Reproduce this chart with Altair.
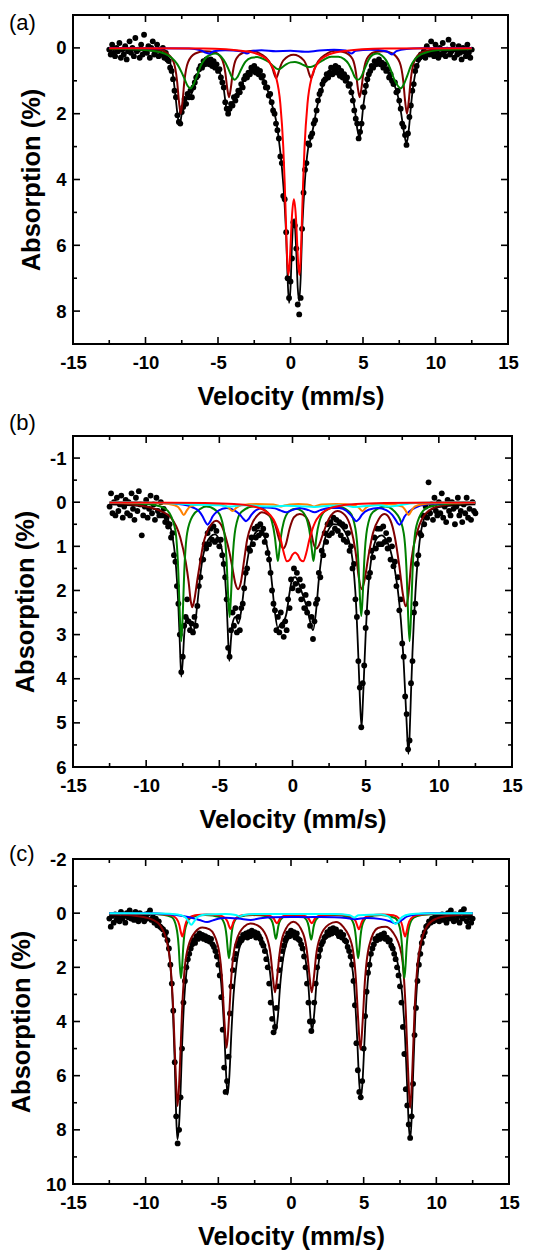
import altair as alt
import pandas as pd

# Velocity channels of the spectrometer (mm/s), 0.1 mm/s apart
VELOCITY = [round(-12.5 + 0.1 * i, 1) for i in range(251)]

# ---------------- panel (a) ----------------
ABS_A = [
    0.05, 0.2, -0.1, 0.15, 0.25, 0.0,
    0.1, -0.15, 0.3, 0.05, 0.2, -0.05, 0.35, 0.1, -0.2, 0.15,
    0.0, 0.25, -0.3, 0.1, 0.05, 0.3, -0.1, 0.2, -0.4, 0.1,
    0.15, -0.05, 0.3, 0.0, -0.2, 0.2, 0.1, -0.1, 0.25, 0.05,
    0.2, 0.0, 0.3, 0.15, 0.35, 0.4, 0.6, 0.7, 0.95, 1.3,
    1.5, 2.05, 2.25, 2.3, 1.95, 1.8, 1.55, 1.7, 1.4, 1.5,
    1.3, 1.5, 1.2, 1.05, 0.9, 0.85, 0.65, 0.55, 0.6, 0.4,
    0.5, 0.35, 0.45, 0.5, 0.35, 0.55, 0.4, 0.6, 0.5, 0.7,
    0.65, 0.9, 1.05, 1.2, 1.65, 1.85, 2.0, 1.85, 1.7, 1.75,
    1.5, 1.6, 1.45, 1.3, 1.35, 1.1, 1.2, 0.95, 0.85, 0.9,
    0.75, 0.8, 0.6, 0.7, 0.55, 0.75, 0.65, 0.8, 0.7, 0.9,
    0.85, 1.05, 1.2, 1.2, 1.45, 1.4, 1.65, 1.9, 2.0, 2.3,
    2.5, 2.75, 3.3, 3.5, 4.5, 4.6, 5.6, 7.0, 7.6, 7.1,
    6.4, 5.3, 5.4, 6.1, 7.8, 8.1, 7.6, 5.5, 4.4, 3.7,
    3.5, 2.9, 2.95, 2.7, 2.6, 2.3, 2.2, 1.9, 1.6, 1.4,
    1.3, 1.1, 1.0, 0.95, 0.8, 0.9, 0.75, 0.6, 0.8, 0.65,
    0.55, 0.75, 0.6, 0.85, 0.7, 0.9, 0.8, 1.0, 0.9, 1.15,
    1.1, 1.35, 1.6, 1.9, 2.15, 2.3, 2.75, 2.55, 2.3, 1.8,
    1.35, 1.15, 0.95, 0.8, 0.7, 0.55, 0.6, 0.4, 0.5, 0.45,
    0.35, 0.5, 0.45, 0.6, 0.5, 0.7, 0.65, 0.9, 0.8, 1.0,
    1.1, 1.05, 1.35, 1.3, 1.6, 1.85, 2.3, 2.4, 2.65, 2.95,
    2.6, 2.1, 1.75, 1.3, 1.1, 0.7, 0.55, 0.35, 0.3, 0.2,
    0.25, 0.1, 0.3, -0.05, 0.15, 0.2, -0.2, 0.1, 0.25, -0.1,
    0.15, 0.3, 0.0, 0.2, -0.15, 0.1, 0.25, 0.05, -0.25, 0.2,
    0.1, -0.1, 0.3, 0.05, 0.2, -0.05, 0.15, 0.35, 0.0, 0.1,
    0.25, -0.1, 0.15, 0.3, 0.05,
]

FIT_A = [(-12.5, 0.05), (-11, 0.06), (-10, 0.07), (-9.5, 0.09), (-9, 0.12), (-8.7, 0.18),
         (-8.5, 0.25), (-8.3, 0.45), (-8.2, 0.6), (-8.1, 0.85), (-8.0, 1.2), (-7.9, 1.6),
         (-7.8, 2.0), (-7.65, 2.35), (-7.5, 2.0), (-7.4, 1.75), (-7.3, 1.6), (-7.1, 1.5),
         (-6.9, 1.45), (-6.7, 1.25), (-6.5, 0.95), (-6.3, 0.7), (-6.1, 0.55), (-5.8, 0.45),
         (-5.5, 0.45), (-5.2, 0.53), (-5.0, 0.62), (-4.8, 0.85), (-4.6, 1.25), (-4.5, 1.6),
         (-4.4, 1.9), (-4.3, 2.05), (-4.2, 1.95), (-4.1, 1.75), (-3.9, 1.6), (-3.7, 1.5),
         (-3.5, 1.25), (-3.3, 1.05), (-3.0, 0.85), (-2.7, 0.72), (-2.4, 0.7), (-2.1, 0.8),
         (-1.8, 1.0), (-1.5, 1.4), (-1.2, 1.85), (-1.0, 2.2), (-0.8, 2.8), (-0.6, 3.6),
         (-0.4, 4.8), (-0.3, 5.7), (-0.2, 7.0), (-0.1, 7.75), (0.0, 7.3), (0.1, 6.0),
         (0.25, 5.2), (0.4, 6.2), (0.5, 7.3), (0.6, 7.7), (0.7, 7.0), (0.8, 5.6), (0.9, 4.7),
         (1.0, 4.0), (1.2, 3.1), (1.4, 2.75), (1.6, 2.35), (1.8, 1.85), (2.0, 1.5), (2.3, 1.05),
         (2.6, 0.85), (3.0, 0.7), (3.4, 0.74), (3.8, 0.9), (4.1, 1.15), (4.3, 1.5), (4.5, 2.1),
         (4.6, 2.45), (4.7, 2.65), (4.75, 2.75), (4.8, 2.65), (4.9, 2.3), (5.0, 1.85), (5.1, 1.5),
         (5.3, 1.0), (5.6, 0.65), (6.0, 0.5), (6.4, 0.56), (6.8, 0.8), (7.1, 1.05), (7.4, 1.45),
         (7.6, 1.9), (7.8, 2.5), (7.9, 2.75), (8.0, 2.9), (8.1, 2.7), (8.2, 2.3), (8.3, 1.8),
         (8.5, 1.05), (8.7, 0.6), (9.0, 0.33), (9.5, 0.16), (10, 0.1), (11, 0.07), (12.5, 0.05)]

DARKRED_A = [(-12.5, 0.01), (-10, 0.02), (-9, 0.06), (-8.57, 0.14), (-8.07, 0.42), (-7.82, 1.02),
             (-7.695, 1.62), (-7.57, 2.0), (-7.445, 1.62), (-7.32, 1.02), (-7.07, 0.44), (-6.57, 0.17),
             (-5.9, 0.1), (-5.24, 0.13), (-4.74, 0.33), (-4.49, 0.77), (-4.365, 1.22), (-4.24, 1.5),
             (-4.115, 1.22), (-3.99, 0.77), (-3.74, 0.33), (-3.24, 0.14), (-2.6, 0.09), (-1.99, 0.2),
             (-1.49, 0.4), (-1.24, 0.62), (-1.115, 0.8), (-0.99, 0.92), (-0.865, 0.8), (-0.74, 0.62),
             (-0.49, 0.38), (0.21, 0.21), (0.92, 0.38), (1.17, 0.62), (1.295, 0.8), (1.42, 0.92),
             (1.545, 0.8), (1.67, 0.62), (1.92, 0.4), (2.42, 0.2), (3.1, 0.09), (3.77, 0.14),
             (4.27, 0.33), (4.52, 0.77), (4.645, 1.22), (4.77, 1.5), (4.895, 1.22), (5.02, 0.77),
             (5.27, 0.33), (5.77, 0.13), (6.4, 0.1), (7.03, 0.17), (7.53, 0.44), (7.78, 1.02),
             (7.905, 1.62), (8.03, 2.0), (8.155, 1.62), (8.28, 1.02), (8.53, 0.42), (9.03, 0.14),
             (10, 0.04), (11, 0.02), (12.5, 0.01)]

GREEN_A = [(-12.5, 0.02), (-10.5, 0.05), (-9.5, 0.09), (-8.7, 0.17), (-8.2, 0.3), (-7.8, 0.5),
           (-7.5, 0.75), (-7.3, 0.95), (-7.1, 1.15), (-6.9, 1.23), (-6.7, 1.12), (-6.45, 0.85),
           (-6.2, 0.55), (-5.9, 0.33), (-5.5, 0.2), (-5.2, 0.17), (-4.9, 0.22), (-4.6, 0.37),
           (-4.3, 0.62), (-4.05, 0.88), (-3.85, 0.97), (-3.65, 0.88), (-3.4, 0.65), (-3.1, 0.42),
           (-2.7, 0.3), (-2.3, 0.28), (-1.9, 0.33), (-1.5, 0.43), (-1.2, 0.55), (-1.0, 0.62),
           (-0.8, 0.65), (-0.6, 0.6), (-0.3, 0.5), (0.0, 0.44), (0.3, 0.43), (0.6, 0.46),
           (0.9, 0.52), (1.15, 0.57), (1.38, 0.58), (1.6, 0.55), (1.9, 0.47), (2.3, 0.36),
           (2.8, 0.27), (3.3, 0.27), (3.7, 0.34), (4.0, 0.48), (4.25, 0.7), (4.45, 0.9),
           (4.65, 0.97), (4.85, 0.9), (5.1, 0.65), (5.4, 0.35), (5.7, 0.2), (6.0, 0.17),
           (6.3, 0.23), (6.6, 0.38), (6.9, 0.65), (7.15, 0.95), (7.4, 1.15), (7.6, 1.23),
           (7.8, 1.12), (8.05, 0.85), (8.3, 0.55), (8.6, 0.33), (9.0, 0.2), (9.5, 0.12),
           (10.5, 0.06), (12.5, 0.03)]

BLUE_A = [(-12.5, 0.0), (-7, 0.02), (-6.2, 0.07), (-5.8, 0.15), (-5.6, 0.17), (-5.3, 0.1),
          (-4.5, 0.07), (-3.4, 0.1), (-3.0, 0.17), (-2.7, 0.1), (-2, 0.07), (-1, 0.1), (0, 0.09),
          (1, 0.12), (2, 0.08), (3, 0.06), (3.8, 0.08), (4.2, 0.17), (4.5, 0.09), (5.5, 0.06),
          (6.6, 0.1), (7.0, 0.2), (7.3, 0.1), (8, 0.03), (9, 0.01), (12.5, 0.0)]

RED_A = [(-12.5, 0.01), (-6, 0.02), (-3, 0.11), (-2, 0.24), (-1.5, 0.41), (-1.0, 0.88), (-0.7, 1.7),
         (-0.5, 3.0), (-0.4, 4.1), (-0.3, 5.5), (-0.22, 6.5), (-0.15, 6.9), (-0.05, 6.5), (0.0, 6.04),
         (0.1, 5.12), (0.235, 4.6), (0.37, 5.12), (0.47, 6.04), (0.52, 6.5), (0.62, 6.9), (0.69, 6.5),
         (0.77, 5.5), (0.87, 4.1), (0.97, 3.0), (1.17, 1.7), (1.47, 0.88), (1.97, 0.41), (2.47, 0.24),
         (3.47, 0.11), (6.5, 0.02), (12.5, 0.01)]

# ---------------- panel (b) ----------------
ABS_B = [
    0.1, -0.2, 0.25, 0.0, 0.3, -0.1,
    0.2, 0.05, -0.15, 0.35, 0.1, -0.05, 0.25, 0.0, 0.3, -0.2,
    0.15, 0.4, -0.1, 0.2, -0.25, 0.05, 0.75, 0.3, 0.1, -0.05,
    0.35, 0.15, -0.15, 0.25, 0.05, 0.4, -0.1, 0.2, 0.3, 0.0,
    0.3, 0.15, 0.45, 0.35, 0.55, 0.5, 0.8, 0.7, 1.2, 1.35,
    1.9, 2.3, 3.0, 3.85, 3.5, 2.8, 2.6, 2.2, 2.7, 2.9,
    2.75, 2.95, 2.6, 2.8, 2.35, 1.9, 1.7, 1.3, 1.3, 0.95,
    1.05, 0.7, 0.95, 0.6, 0.85, 0.55, 0.9, 0.65, 0.85, 1.0,
    0.85, 1.2, 1.4, 1.7, 2.2, 3.3, 3.5, 2.9, 2.5, 2.8,
    2.4, 2.95, 2.6, 2.9, 2.4, 2.3, 1.95, 1.6, 1.5, 1.05,
    1.1, 0.8, 0.95, 0.6, 0.8, 0.55, 0.75, 0.5, 0.7, 0.6,
    0.9, 0.75, 1.15, 1.3, 1.6, 2.0, 2.3, 2.45, 2.9, 2.6,
    2.95, 2.5, 2.8, 3.05, 2.7, 2.9, 2.2, 2.4, 1.75, 1.95,
    1.5, 1.85, 1.6, 2.0, 1.75, 2.2, 1.9, 2.4, 2.1, 2.5,
    2.3, 2.8, 2.6, 3.1, 2.7, 2.3, 2.2, 1.6, 1.7, 1.1,
    1.2, 0.7, 0.9, 0.5, 0.75, 0.45, 0.7, 0.35, 0.6, 0.4,
    0.65, 0.45, 0.75, 0.5, 0.85, 0.55, 0.9, 0.7, 1.1, 1.0,
    1.5, 1.4, 2.2, 2.6, 3.6, 4.2, 5.1, 4.1, 3.7, 2.85,
    2.5, 1.7, 1.6, 1.1, 1.25, 0.8, 1.05, 0.6, 0.95, 0.6,
    0.95, 0.55, 0.9, 0.7, 1.05, 0.85, 1.3, 1.0, 1.45, 1.35,
    1.9, 1.7, 2.45, 2.2, 3.2, 3.5, 4.4, 4.8, 5.6, 5.4,
    4.1, 3.6, 2.5, 2.3, 1.4, 1.2, 0.7, 0.75, 0.3, 0.5,
    0.1, 0.35, -0.45, 0.25, 0.05, 0.4, -0.1, 0.2, 0.3, 0.0,
    0.25, -0.2, 0.35, 0.1, 0.45, -0.05, 0.2, 0.3, 0.0, 0.15,
    0.5, 0.1, -0.1, 0.3, 0.2, 0.45, 0.05, 0.25, -0.1, 0.35,
    0.15, 0.4, 0.0, 0.2, 0.25,
]

FIT_B = [(-12.5, 0.05), (-11, 0.07), (-10, 0.1), (-9.5, 0.15), (-9, 0.2), (-8.7, 0.27), (-8.5, 0.4),
         (-8.3, 0.62), (-8.1, 1.0), (-8.0, 1.3), (-7.9, 1.75), (-7.8, 2.35), (-7.7, 3.2), (-7.6, 3.95),
         (-7.5, 3.6), (-7.4, 3.0), (-7.3, 2.7), (-7.2, 2.6), (-7.0, 2.75), (-6.85, 2.95), (-6.7, 2.85),
         (-6.5, 2.3), (-6.3, 1.65), (-6.1, 1.2), (-5.9, 0.95), (-5.6, 0.78), (-5.3, 0.73), (-5.0, 0.87),
         (-4.8, 1.12), (-4.6, 1.75), (-4.5, 2.3), (-4.4, 3.1), (-4.32, 3.6), (-4.2, 3.1), (-4.1, 2.75),
         (-3.9, 2.6), (-3.7, 2.75), (-3.5, 2.45), (-3.3, 1.9), (-3.1, 1.35), (-2.9, 1.0), (-2.6, 0.73),
         (-2.3, 0.64), (-2.0, 0.73), (-1.8, 0.9), (-1.6, 1.25), (-1.4, 1.85), (-1.2, 2.5), (-1.0, 2.85),
         (-0.8, 2.75), (-0.6, 2.7), (-0.4, 2.5), (-0.2, 2.05), (0.0, 1.72), (0.2, 1.7), (0.4, 1.82),
         (0.6, 2.0), (0.8, 2.2), (1.0, 2.4), (1.2, 2.7), (1.4, 2.9), (1.6, 2.5), (1.8, 1.75), (2.0, 1.2),
         (2.2, 0.85), (2.5, 0.6), (2.8, 0.5), (3.1, 0.51), (3.4, 0.58), (3.7, 0.74), (3.9, 0.93),
         (4.1, 1.3), (4.3, 2.05), (4.5, 3.5), (4.6, 4.4), (4.72, 5.1), (4.8, 4.6), (4.9, 3.8),
         (5.0, 3.0), (5.1, 2.35), (5.3, 1.5), (5.5, 1.08), (5.8, 0.8), (6.1, 0.75), (6.4, 0.85),
         (6.7, 1.1), (7.0, 1.55), (7.2, 2.0), (7.4, 2.65), (7.6, 3.65), (7.8, 5.0), (7.92, 5.7),
         (8.0, 5.3), (8.1, 4.3), (8.2, 3.4), (8.4, 2.05), (8.6, 1.15), (8.8, 0.63), (9.0, 0.37),
         (9.3, 0.21), (9.7, 0.14), (10.5, 0.09), (12.5, 0.05)]

DARKRED_B = [(-12.5, 0.02), (-11, 0.05), (-10, 0.1), (-9, 0.2), (-8.33, 0.34), (-7.67, 0.8),
             (-7.3, 1.35), (-7.1, 1.8), (-6.95, 2.25), (-6.85, 2.38), (-6.7, 2.2), (-6.5, 1.75),
             (-6.33, 1.4), (-6.1, 0.95), (-5.9, 0.72), (-5.5, 0.48), (-5.22, 0.42), (-4.9, 0.5),
             (-4.56, 0.8), (-4.3, 1.15), (-4.1, 1.5), (-3.9, 1.85), (-3.72, 1.97), (-3.55, 1.85),
             (-3.3, 1.3), (-3.1, 0.85), (-2.78, 0.5), (-2.4, 0.3), (-2.1, 0.23), (-1.7, 0.28),
             (-1.44, 0.36), (-1.2, 0.5), (-0.95, 0.8), (-0.75, 1.0), (-0.62, 1.05), (-0.45, 0.95),
             (-0.2, 0.6), (0.1, 0.34), (0.5, 0.27), (0.9, 0.33), (1.2, 0.55), (1.45, 0.95),
             (1.65, 1.05), (1.8, 0.98), (2.1, 0.7), (2.5, 0.37), (3.07, 0.2), (3.6, 0.3), (4.0, 0.6),
             (4.3, 1.1), (4.55, 1.75), (4.73, 1.97), (4.9, 1.8), (5.2, 1.2), (5.5, 0.7), (5.9, 0.38),
             (6.3, 0.27), (6.7, 0.42), (7.0, 0.8), (7.3, 1.45), (7.55, 2.1), (7.73, 2.36), (7.9, 2.15),
             (8.13, 1.3), (8.5, 0.7), (8.9, 0.35), (9.7, 0.12), (10.5, 0.06), (12.5, 0.02)]

GREEN_B = [(-12.5, 0.01), (-10.5, 0.03), (-9.5, 0.06), (-8.8, 0.13), (-8.4, 0.25), (-8.0, 0.65),
           (-7.8, 1.6), (-7.7, 2.55), (-7.6, 3.15), (-7.5, 2.55), (-7.4, 1.6), (-7.2, 0.7),
           (-6.8, 0.3), (-6.3, 0.15), (-5.9, 0.1), (-5.1, 0.22), (-4.7, 0.6), (-4.5, 1.35),
           (-4.4, 2.1), (-4.3, 2.6), (-4.2, 2.1), (-4.1, 1.35), (-3.9, 0.6), (-3.5, 0.22),
           (-2.65, 0.1), (-1.8, 0.2), (-1.4, 0.45), (-1.2, 0.8), (-1.1, 1.1), (-1.0, 1.33),
           (-0.9, 1.1), (-0.8, 0.8), (-0.6, 0.45), (-0.2, 0.2), (0.215, 0.15), (0.63, 0.2),
           (1.03, 0.45), (1.23, 0.8), (1.33, 1.1), (1.43, 1.33), (1.53, 1.1), (1.63, 0.8),
           (1.83, 0.45), (2.23, 0.2), (3.05, 0.1), (3.9, 0.22), (4.3, 0.6), (4.5, 1.35),
           (4.6, 2.1), (4.7, 2.58), (4.8, 2.1), (4.9, 1.35), (5.1, 0.6), (5.5, 0.22), (6.35, 0.1),
           (7.2, 0.3), (7.6, 0.7), (7.8, 1.6), (7.9, 2.55), (8.0, 3.15), (8.1, 2.55), (8.2, 1.6),
           (8.4, 0.65), (8.8, 0.25), (9.2, 0.13), (9.9, 0.06), (10.9, 0.03), (12.5, 0.01)]

BLUE_B = [(-12.5, 0.005), (-9, 0.02), (-7.5, 0.05), (-6.8, 0.12), (-6.4, 0.2), (-6.15, 0.32),
          (-5.95, 0.45), (-5.8, 0.51), (-5.65, 0.45), (-5.45, 0.32), (-5.1, 0.2), (-4.5, 0.13),
          (-4.0, 0.18), (-3.6, 0.28), (-3.35, 0.38), (-3.18, 0.43), (-3.0, 0.38), (-2.8, 0.28),
          (-2.3, 0.15), (-1.8, 0.12), (-1.2, 0.14), (-0.8, 0.19), (-0.45, 0.23), (-0.1, 0.19),
          (0.5, 0.13), (1.1, 0.18), (1.52, 0.23), (1.9, 0.18), (2.5, 0.13), (3.2, 0.13), (3.7, 0.2),
          (4.0, 0.3), (4.2, 0.38), (4.36, 0.43), (4.55, 0.38), (4.75, 0.28), (5.2, 0.17),
          (5.85, 0.13), (6.4, 0.18), (6.8, 0.28), (7.05, 0.4), (7.2, 0.48), (7.32, 0.51),
          (7.47, 0.45), (7.67, 0.32), (8.02, 0.2), (8.4, 0.12), (9.1, 0.05), (10.5, 0.02),
          (12.5, 0.005)]

ORANGE_B = [(-12.5, 0.005), (-9.5, 0.02), (-8.3, 0.05), (-7.85, 0.1), (-7.63, 0.19), (-7.43, 0.29),
            (-7.23, 0.19), (-7.0, 0.1), (-6.4, 0.05), (-5.5, 0.04), (-4.7, 0.07), (-4.35, 0.13),
            (-4.1, 0.2), (-3.85, 0.13), (-3.5, 0.07), (-2.5, 0.04), (-1.3, 0.05), (-0.95, 0.08),
            (-0.8, 0.1), (-0.6, 0.08), (-0.2, 0.05), (0.4, 0.04), (1.0, 0.05), (1.3, 0.08),
            (1.47, 0.1), (1.65, 0.08), (2.0, 0.05), (3.0, 0.04), (4.2, 0.07), (4.55, 0.13),
            (4.78, 0.2), (5.0, 0.13), (5.4, 0.07), (6.5, 0.04), (7.5, 0.1), (7.73, 0.19),
            (7.93, 0.29), (8.13, 0.19), (8.35, 0.1), (8.8, 0.05), (10, 0.02), (12.5, 0.005)]

CYAN_B = [(-12.5, 0.0), (-9, 0.01), (-8, 0.03), (-7, 0.05), (-6, 0.06), (-5, 0.07), (-4.3, 0.1),
          (-3.5, 0.07), (-2.5, 0.08), (-1.5, 0.1), (-0.5, 0.08), (0.5, 0.09), (1.5, 0.11), (2.5, 0.08),
          (3.5, 0.07), (4.3, 0.11), (5.2, 0.08), (6.0, 0.07), (6.7, 0.1), (7.3, 0.07), (8, 0.03),
          (9, 0.01), (12.5, 0.0)]

RED_B = [(-12.5, 0.005), (-6, 0.02), (-4, 0.043), (-3, 0.075), (-2, 0.17), (-1.5, 0.3), (-1.2, 0.45),
         (-1.0, 0.62), (-0.8, 0.85), (-0.6, 1.14), (-0.38, 1.34), (-0.2, 1.31), (0.0, 1.19),
         (0.175, 1.14), (0.35, 1.19), (0.55, 1.31), (0.73, 1.34), (0.95, 1.14), (1.15, 0.85),
         (1.35, 0.62), (1.55, 0.45), (1.85, 0.3), (2.35, 0.17), (3.35, 0.075), (4.35, 0.043),
         (6.3, 0.02), (12.5, 0.005)]

# ---------------- panel (c) ----------------
ABS_C = [
    0.2, 0.5, 0.1, 0.35, 0.05, 0.25,
    0.15, 0.3, -0.05, 0.2, 0.1, 0.35, 0.0, 0.15, -0.1, 0.2,
    0.05, 0.25, -0.05, 0.15, 0.3, 0.0, 0.2, 0.1, 0.3, 0.05,
    0.2, 0.0, -0.1, 0.25, 0.15, 0.35, 0.2, 0.45, 0.3, 0.5,
    0.55, 0.6, 0.8, 0.7, 1.0, 1.3, 1.9, 2.6, 3.6, 5.5,
    7.5, 8.5, 8.0, 6.8, 5.0, 3.3, 2.5, 2.0, 1.7, 1.5,
    1.3, 1.15, 1.0, 1.1, 0.85, 0.95, 0.75, 0.9, 0.8, 0.95,
    0.85, 1.0, 0.9, 1.05, 0.95, 1.15, 1.25, 1.4, 1.6, 1.9,
    2.3, 3.1, 4.3, 5.7, 6.6, 6.2, 5.3, 3.7, 2.7, 2.1,
    1.7, 1.5, 1.2, 1.1, 0.95, 1.0, 0.8, 0.85, 0.75, 0.9,
    0.7, 0.85, 0.65, 0.8, 0.7, 0.9, 0.75, 0.85, 0.95, 1.1,
    1.2, 1.4, 1.7, 2.0, 2.6, 3.3, 3.9, 4.4, 4.2, 3.5,
    2.7, 2.1, 1.7, 1.4, 1.2, 1.0, 0.9, 0.75, 0.85, 0.65,
    0.8, 0.7, 0.9, 0.75, 0.95, 1.0, 1.15, 1.3, 1.6, 2.0,
    2.6, 3.3, 4.0, 4.35, 4.0, 3.3, 2.6, 2.0, 1.6, 1.35,
    1.15, 1.05, 0.9, 0.85, 0.7, 0.8, 0.6, 0.75, 0.55, 0.7,
    0.6, 0.75, 0.85, 0.7, 0.9, 0.8, 1.0, 1.05, 1.25, 1.4,
    1.6, 1.9, 2.5, 3.4, 4.8, 5.8, 6.6, 6.8, 6.2, 5.0,
    3.8, 2.9, 2.2, 1.9, 1.5, 1.3, 1.15, 0.95, 1.0, 0.85,
    0.95, 0.8, 0.9, 0.75, 0.95, 0.9, 1.05, 1.0, 1.2, 1.3,
    1.5, 1.7, 2.0, 2.3, 2.7, 3.3, 4.2, 5.2, 6.5, 7.1,
    7.8, 8.3, 7.5, 6.3, 4.5, 3.5, 2.5, 1.9, 1.5, 1.1,
    0.85, 0.7, 0.5, 0.45, 0.3, 0.35, 0.2, 0.3, 0.15, 0.25,
    0.1, 0.3, 0.2, 0.05, 0.25, 0.15, 0.35, 0.0, 0.2, -0.1,
    0.15, 0.3, 0.05, 0.25, 0.1, 0.35, -0.05, 0.2, -0.15, 0.1,
    0.3, 0.5, 0.15, 0.35, 0.2,
]

FIT_C = [(-12.5, 0.1), (-11, 0.13), (-10, 0.18), (-9.5, 0.25), (-9, 0.4), (-8.7, 0.65), (-8.5, 1.0),
         (-8.3, 1.9), (-8.15, 3.2), (-8.0, 5.5), (-7.9, 7.5), (-7.82, 8.35), (-7.7, 7.8), (-7.6, 6.6),
         (-7.5, 5.0), (-7.35, 3.2), (-7.2, 2.2), (-7.0, 1.55), (-6.7, 1.1), (-6.4, 0.95), (-6.0, 0.95),
         (-5.6, 1.0), (-5.3, 1.2), (-5.0, 1.7), (-4.8, 2.6), (-4.6, 4.3), (-4.45, 6.1), (-4.37, 6.7),
         (-4.25, 6.1), (-4.1, 4.4), (-3.95, 3.0), (-3.75, 1.9), (-3.5, 1.2), (-3.1, 0.9), (-2.7, 0.75),
         (-2.3, 0.8), (-1.9, 1.1), (-1.6, 1.6), (-1.4, 2.4), (-1.2, 3.6), (-1.05, 4.35), (-0.9, 3.8),
         (-0.75, 2.7), (-0.55, 1.7), (-0.3, 1.1), (0.0, 0.85), (0.2, 0.8), (0.5, 0.9), (0.8, 1.2),
         (1.0, 1.7), (1.2, 2.7), (1.35, 3.9), (1.45, 4.35), (1.6, 3.7), (1.75, 2.6), (1.95, 1.65),
         (2.2, 1.1), (2.6, 0.8), (3.0, 0.7), (3.4, 0.8), (3.8, 1.1), (4.1, 1.6), (4.35, 2.7),
         (4.55, 4.6), (4.7, 6.3), (4.8, 6.8), (4.9, 6.4), (5.05, 4.8), (5.2, 3.1), (5.4, 1.9),
         (5.65, 1.2), (6.0, 0.9), (6.4, 0.85), (6.8, 1.0), (7.1, 1.35), (7.4, 2.0), (7.65, 3.0),
         (7.85, 4.6), (8.0, 6.5), (8.1, 7.8), (8.2, 8.35), (8.3, 7.6), (8.4, 6.0), (8.55, 3.8),
         (8.7, 2.4), (8.9, 1.4), (9.2, 0.75), (9.6, 0.4), (10.2, 0.22), (11, 0.14), (12.5, 0.1)]

DARKRED_C = [(-12.5, 0.04), (-11, 0.08), (-10, 0.16), (-9.5, 0.25), (-9.0, 0.45), (-8.4, 1.45),
             (-8.1, 3.6), (-7.95, 5.7), (-7.8, 7.12), (-7.65, 5.75), (-7.5, 3.65), (-7.2, 1.55),
             (-6.6, 0.7), (-6.1, 0.53), (-5.6, 0.6), (-5.03, 1.2), (-4.73, 2.55), (-4.58, 4.0),
             (-4.43, 4.97), (-4.28, 4.0), (-4.13, 2.55), (-3.83, 1.15), (-3.23, 0.5), (-2.8, 0.38),
             (-2.3, 0.45), (-1.7, 0.85), (-1.4, 1.55), (-1.25, 2.35), (-1.1, 2.92), (-0.95, 2.35),
             (-0.8, 1.55), (-0.5, 0.75), (0.165, 0.32), (0.83, 0.75), (1.13, 1.55), (1.28, 2.35),
             (1.43, 2.92), (1.58, 2.35), (1.73, 1.55), (2.03, 0.85), (2.6, 0.42), (3.1, 0.33),
             (3.58, 0.5), (4.18, 1.15), (4.48, 2.55), (4.63, 4.0), (4.78, 5.04), (4.93, 4.0),
             (5.08, 2.55), (5.38, 1.2), (5.98, 0.55), (6.5, 0.5), (7.0, 0.7), (7.6, 1.5), (7.9, 3.65),
             (8.05, 5.75), (8.2, 7.19), (8.35, 5.8), (8.5, 3.65), (8.8, 1.5), (9.4, 0.45), (10, 0.2),
             (11, 0.09), (12.5, 0.04)]

GREEN_C = [(-12.5, 0.01), (-10, 0.02), (-8.8, 0.06), (-8.2, 0.15), (-7.89, 0.52), (-7.73, 1.22),
           (-7.65, 1.95), (-7.57, 2.4), (-7.49, 1.95), (-7.41, 1.22), (-7.25, 0.52), (-6.93, 0.18),
           (-6.3, 0.08), (-5.9, 0.07), (-4.91, 0.14), (-4.59, 0.38), (-4.43, 0.87), (-4.35, 1.35),
           (-4.27, 1.66), (-4.19, 1.35), (-4.11, 0.87), (-3.95, 0.38), (-3.63, 0.14), (-2.65, 0.07),
           (-1.68, 0.11), (-1.36, 0.24), (-1.2, 0.5), (-1.12, 0.78), (-1.04, 0.95), (-0.96, 0.78),
           (-0.88, 0.5), (-0.72, 0.24), (-0.4, 0.11), (0.175, 0.08), (0.75, 0.11), (1.07, 0.25),
           (1.23, 0.52), (1.31, 0.8), (1.39, 0.98), (1.47, 0.8), (1.55, 0.52), (1.71, 0.25),
           (2.03, 0.11), (3.0, 0.07), (3.98, 0.14), (4.3, 0.38), (4.46, 0.87), (4.54, 1.35),
           (4.62, 1.66), (4.7, 1.35), (4.78, 0.87), (4.94, 0.38), (5.26, 0.14), (6.2, 0.07),
           (7.16, 0.18), (7.48, 0.52), (7.64, 1.22), (7.72, 1.95), (7.8, 2.4), (7.88, 1.95),
           (7.96, 1.22), (8.12, 0.52), (8.44, 0.17), (9.0, 0.07), (10, 0.03), (12.5, 0.01)]

RED_C = [(-12.5, 0.005), (-9.5, 0.02), (-8.3, 0.07), (-7.88, 0.2), (-7.68, 0.45), (-7.58, 0.7),
         (-7.48, 0.86), (-7.38, 0.7), (-7.28, 0.45), (-7.08, 0.2), (-6.6, 0.08), (-5.8, 0.05),
         (-4.96, 0.08), (-4.56, 0.17), (-4.36, 0.32), (-4.26, 0.48), (-4.16, 0.58), (-4.06, 0.48),
         (-3.96, 0.32), (-3.76, 0.17), (-3.36, 0.08), (-2.6, 0.05), (-1.77, 0.06), (-1.37, 0.12),
         (-1.17, 0.21), (-1.07, 0.31), (-0.97, 0.37), (-0.87, 0.31), (-0.77, 0.21), (-0.57, 0.12),
         (-0.17, 0.07), (0.23, 0.06), (0.63, 0.07), (1.03, 0.12), (1.23, 0.21), (1.33, 0.31),
         (1.43, 0.37), (1.53, 0.31), (1.63, 0.21), (1.83, 0.12), (2.23, 0.07), (3.0, 0.05),
         (3.87, 0.08), (4.27, 0.17), (4.47, 0.32), (4.57, 0.48), (4.67, 0.59), (4.77, 0.48),
         (4.87, 0.32), (5.07, 0.17), (5.47, 0.08), (6.3, 0.05), (7.05, 0.08), (7.45, 0.2),
         (7.65, 0.45), (7.75, 0.7), (7.85, 0.86), (7.95, 0.7), (8.05, 0.45), (8.25, 0.2),
         (8.7, 0.07), (9.8, 0.02), (12.5, 0.005)]

BLUE_C = [(-12.5, 0.0), (-9.2, 0.01), (-8, 0.06), (-7, 0.15), (-6.3, 0.25), (-5.77, 0.33),
          (-5.3, 0.25), (-4.5, 0.17), (-3.6, 0.2), (-2.77, 0.25), (-2.1, 0.19), (-1.2, 0.15),
          (0, 0.14), (1.0, 0.15), (2.0, 0.14), (3.0, 0.15), (3.8, 0.18), (4.39, 0.22), (5.2, 0.18),
          (6.2, 0.22), (6.8, 0.3), (7.16, 0.37), (7.5, 0.3), (8.0, 0.12), (8.8, 0.03), (9.6, 0.0),
          (12.5, 0.0)]

CYAN_C = [(-12.5, 0.0), (-9, 0.01), (-7.8, 0.05), (-7.3, 0.14), (-7.06, 0.3), (-6.86, 0.43),
          (-6.66, 0.3), (-6.42, 0.14), (-5.9, 0.05), (-4.5, 0.03), (-3.8, 0.07), (-3.53, 0.12),
          (-3.26, 0.07), (-2.5, 0.03), (3.0, 0.03), (4.05, 0.08), (4.35, 0.16), (4.65, 0.08),
          (6.2, 0.05), (6.76, 0.14), (7.0, 0.3), (7.2, 0.4), (7.4, 0.3), (7.64, 0.14), (8.2, 0.04),
          (9, 0.01), (12.5, 0.0)]

COLORS = {"darkred": "#800000", "green": "#008000", "blue": "#0000FF",
          "orange": "#FF8000", "cyan": "#00FFFF", "red": "#FF0000"}

X_MAJOR = [-15, -10, -5, 0, 5, 10, 15]
X_MINOR = [-12.5, -7.5, -2.5, 2.5, 7.5, 12.5]
FONT = "Liberation Sans"
MAJOR_LEN = 7
MINOR_LEN = 4


def panel(tag, tag_y, absorb, fit, comps, ydom, ymaj, ymin, W, H):
    xs = alt.Scale(domain=[-15, 15], nice=False, zero=False)
    ys = alt.Scale(domain=ydom, reverse=True, nice=False, zero=False)
    pts = pd.DataFrame({"v": VELOCITY, "a": absorb})

    def xe(axis):
        return alt.X("v:Q", scale=xs, axis=axis)

    def ye(axis):
        return alt.Y("a:Q", scale=ys, axis=axis)

    lab = dict(labelFont=FONT, labelFontSize=18.5, labelFontWeight="bold", labelColor="black",
               titleFont=FONT, titleFontSize=25.5, titleFontWeight="bold", titleColor="black",
               ticks=False, domain=False, grid=False, labelFlush=False, labelOverlap=False,
               labelExpr="datum.value")
    layers = [
        alt.Chart(pts).mark_circle(size=34, color="black", opacity=1).encode(
            x=xe(alt.Axis(orient="bottom", values=X_MAJOR, title="Velocity (mm/s)",
                          labelPadding=9, titlePadding=13, **lab)),
            y=ye(alt.Axis(orient="left", values=ymaj, title="Absorption (%)",
                          labelPadding=7, titlePadding=11, **lab)),
        )
    ]

    def line(pairs, color, width):
        df = pd.DataFrame(pairs, columns=["v", "a"])
        return alt.Chart(df).mark_line(color=color, strokeWidth=width, interpolate="monotone").encode(
            x=xe(None), y=ye(None))

    layers.append(line(fit, "black", 1.8))
    for name, pairs in comps:
        layers.append(line(pairs, COLORS[name], 2))

    # inward tick marks on all four sides
    def xticks(vals, length):
        df = pd.DataFrame({"v": vals})
        top = alt.Chart(df).mark_rule(color="black", strokeWidth=1.6).encode(
            x=xe(None), y=alt.value(0), y2=alt.value(length))
        bot = alt.Chart(df).mark_rule(color="black", strokeWidth=1.6).encode(
            x=xe(None), y=alt.value(H - length), y2=alt.value(H))
        return [top, bot]

    def yticks(vals, length):
        df = pd.DataFrame({"a": vals})
        left = alt.Chart(df).mark_rule(color="black", strokeWidth=1.6).encode(
            y=ye(None), x=alt.value(0), x2=alt.value(length))
        right = alt.Chart(df).mark_rule(color="black", strokeWidth=1.6).encode(
            y=ye(None), x=alt.value(W - length), x2=alt.value(W))
        return [left, right]

    layers += xticks(X_MAJOR, MAJOR_LEN) + xticks(X_MINOR, MINOR_LEN)
    layers += yticks(ymaj, MAJOR_LEN) + yticks(ymin, MINOR_LEN)

    layers.append(alt.Chart(pd.DataFrame({"t": [tag]})).mark_text(
        align="left", baseline="middle", font=FONT, fontSize=22, color="black").encode(
        text="t:N", x=alt.value(-64), y=alt.value(tag_y)))

    return alt.layer(*layers).resolve_axis(x="independent", y="independent").properties(
        width=W, height=H)


pa = panel("(a)", 8, ABS_A, FIT_A,
           [("darkred", DARKRED_A), ("green", GREEN_A), ("blue", BLUE_A), ("red", RED_A)],
           [-1, 9], [0, 2, 4, 6, 8], [1, 3, 5, 7], 435, 329)
pb = panel("(b)", -13, ABS_B, FIT_B,
           [("darkred", DARKRED_B), ("green", GREEN_B), ("blue", BLUE_B), ("orange", ORANGE_B),
            ("cyan", CYAN_B), ("red", RED_B)],
           [-1.5, 6], [-1, 0, 1, 2, 3, 4, 5, 6], [-0.5, 0.5, 1.5, 2.5, 3.5, 4.5, 5.5], 439, 331)
pc = panel("(c)", -5, ABS_C, FIT_C,
           [("darkred", DARKRED_C), ("green", GREEN_C), ("red", RED_C), ("blue", BLUE_C),
            ("cyan", CYAN_C)],
           [-2, 10], [-2, 0, 2, 4, 6, 8, 10], [-1, 1, 3, 5, 7, 9], 436, 325)

chart = alt.vconcat(pa, pb, pc, spacing=92, bounds="flush").properties(
    padding={"left": 0, "top": 3, "right": 5, "bottom": 5},
    background="white",
).configure_view(stroke="black", strokeWidth=2)

chart.save("out.html", embed_options={"renderer": "svg", "actions": False})
